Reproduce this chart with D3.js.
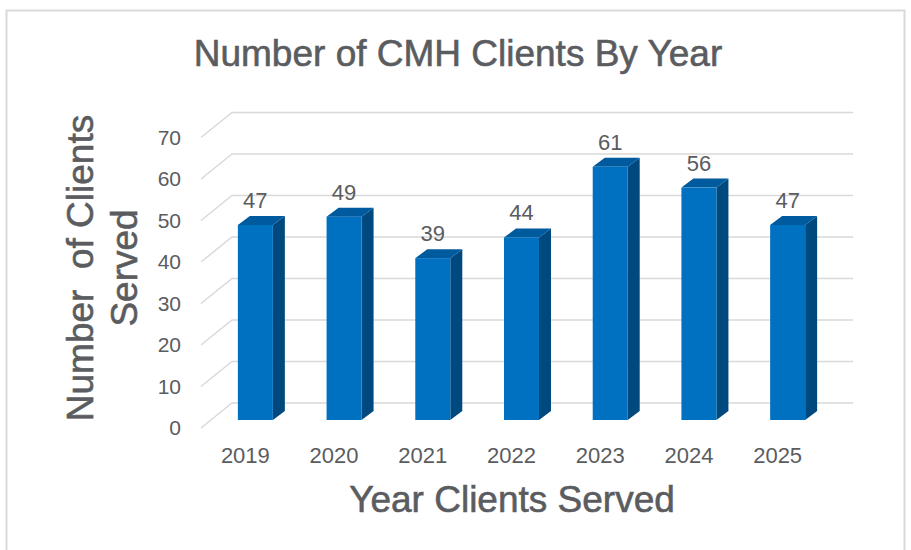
<!DOCTYPE html>
<html>
<head>
<meta charset="utf-8">
<script src="https://cdn.jsdelivr.net/npm/d3@7"></script>
<style>
body { margin: 0; background: #fff; }
text { font-family: "Liberation Sans", Arial, sans-serif; fill: #5a5c60; }
.big { stroke: #5a5c60; stroke-width: 0.6px; }
</style>
</head>
<body>
<div id="chart"></div>
<script>

var width = 911;
var height = 550;

var years = ["2019", "2020", "2021", "2022", "2023", "2024", "2025"];
var clients = [47, 49, 39, 44, 61, 56, 47];
var yTicks = [0, 10, 20, 30, 40, 50, 60, 70];

// floor depth (back wall offset) and bar depth
var wallDx = 31, wallDy = -25;
var barDx = 12, barDy = -9;
var barShiftX = 10, barShiftY = -8;

var svg = d3.select("#chart")
	.append("svg")
	.attr("width", width)
	.attr("height", height);

// outer border
svg.append("rect")
	.attr("x", 6.5)
	.attr("y", 10.5)
	.attr("width", 898)
	.attr("height", 560)
	.attr("fill", "none")
	.attr("stroke", "#d9d9d9")
	.attr("stroke-width", 2);

var xScale = d3.scaleBand().domain(years).range([201, 822]);
var yScale = d3.scaleLinear().domain([0, 70]).range([428, 137.5]);

// gridlines: diagonal on floor side + horizontal on back wall
var grid = svg.append("g");
yTicks.forEach(function(t) {
	var y = yScale(t);
	grid.append("path")
		.attr("d", "M201," + y + "L" + (201 + wallDx) + "," + (y + wallDy) +
			"L" + (822 + wallDx) + "," + (y + wallDy))
		.attr("fill", "none")
		.attr("stroke", "#d9d9d9")
		.attr("stroke-width", 1.5);
});

// y tick labels
svg.append("g").selectAll("text")
	.data(yTicks)
	.enter()
	.append("text")
	.attr("x", 181)
	.attr("y", function(d) { return yScale(d); })
	.attr("dy", "0.35em")
	.style("text-anchor", "end")
	.style("font-size", "21px")
	.text(function(d) { return d; });

// bars
var barW = 35;
var bars = svg.append("g").selectAll("g")
	.data(years)
	.enter()
	.append("g");

function faceX(d) { return xScale(d) + xScale.bandwidth() / 2 - barW / 2 + barShiftX; }
function faceTop(i) { return yScale(clients[i]) + barShiftY; }
var faceBottom = yScale(0) + barShiftY;

// side
bars.append("path")
	.attr("d", function(d, i) {
		var x = faceX(d) + barW, t = faceTop(i);
		return "M" + x + "," + t + "L" + (x + barDx) + "," + (t + barDy) +
			"L" + (x + barDx) + "," + (faceBottom + barDy) + "L" + x + "," + faceBottom + "Z";
	})
	.attr("fill", "#00497f");

// top
bars.append("path")
	.attr("d", function(d, i) {
		var x = faceX(d), t = faceTop(i);
		return "M" + x + "," + t + "L" + (x + barDx) + "," + (t + barDy) +
			"L" + (x + barW + barDx) + "," + (t + barDy) + "L" + (x + barW) + "," + t + "Z";
	})
	.attr("fill", "#005a9e");

// front
bars.append("rect")
	.attr("x", faceX)
	.attr("y", function(d, i) { return faceTop(i); })
	.attr("width", barW)
	.attr("height", function(d, i) { return faceBottom - faceTop(i); })
	.attr("fill", "#0070c0");

// value labels
bars.append("text")
	.attr("x", function(d) { return faceX(d) + barW / 2; })
	.attr("y", function(d, i) { return faceTop(i) + barDy - 8; })
	.style("text-anchor", "middle")
	.style("font-size", "22px")
	.text(function(d, i) { return clients[i]; });

// x tick labels
svg.append("g").selectAll("text")
	.data(years)
	.enter()
	.append("text")
	.attr("x", function(d) { return xScale(d) + xScale.bandwidth() / 2; })
	.attr("y", 463)
	.style("text-anchor", "middle")
	.style("font-size", "22px")
	.text(function(d) { return d; });

// titles
svg.append("text")
	.attr("class", "big")
	.attr("x", 458)
	.attr("y", 66)
	.style("text-anchor", "middle")
	.style("font-size", "37px")
	.text("Number of CMH Clients By Year");

svg.append("text")
	.attr("class", "big")
	.attr("x", 512)
	.attr("y", 512)
	.style("text-anchor", "middle")
	.style("font-size", "37px")
	.text("Year Clients Served");

var yTitle = svg.append("text")
	.attr("class", "big")
	.attr("transform", "translate(93,268) rotate(-90)")
	.style("text-anchor", "middle")
	.style("font-size", "37px")
	.style("white-space", "pre");
yTitle.append("tspan").attr("x", 0).attr("y", 0).text("Number\u00a0 of Clients");
yTitle.append("tspan").attr("x", 0).attr("y", 44).text("Served");

</script>
</body>
</html>
